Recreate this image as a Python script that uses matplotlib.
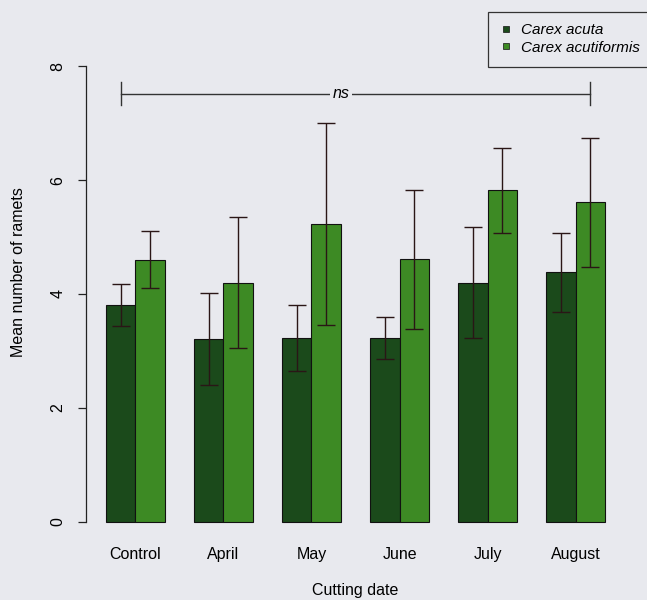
import numpy as np
import matplotlib
matplotlib.use("Agg")
import matplotlib.pyplot as plt
from matplotlib.lines import Line2D
from matplotlib.patches import Rectangle

plt.rcParams['font.family'] = ['Liberation Sans', 'DejaVu Sans']

# ---- data ----
dates = ["Control", "April", "May", "June", "July", "August"]
acuta_mean = [3.80, 3.21, 3.23, 3.23, 4.20, 4.38]
acuta_se = [0.37, 0.80, 0.58, 0.37, 0.98, 0.69]
acutiformis_mean = [4.60, 4.20, 5.23, 4.61, 5.82, 5.61]
acutiformis_se = [0.50, 1.15, 1.78, 1.22, 0.74, 1.13]
species = ["Carex acuta", "Carex acutiformis"]

bg = '#e8e9ee'
dark = '#1b4a1b'
light = '#3d8a24'
err_col = '#2a1616'
fs = 11.5

fig = plt.figure(figsize=(6.47, 6.0), dpi=100, facecolor=bg)
ax = fig.add_axes([86/647, 60/600, 539/647, 492/600], facecolor=bg)

# R-style barplot: beside, space = c(0, 1)
n = len(dates)
left_dark = 1 + 3 * np.arange(n)
x_dark = left_dark + 0.5
x_light = left_dark + 1.5

ax.bar(x_dark, acuta_mean, width=1, color=dark, edgecolor='#111111', linewidth=0.8)
ax.bar(x_light, acutiformis_mean, width=1, color=light, edgecolor='#111111', linewidth=0.8)
ax.errorbar(x_dark, acuta_mean, yerr=acuta_se, fmt='none', ecolor=err_col,
            elinewidth=1.0, capsize=6.5, capthick=1.0)
ax.errorbar(x_light, acutiformis_mean, yerr=acutiformis_se, fmt='none', ecolor=err_col,
            elinewidth=1.0, capsize=6.5, capthick=1.0)

# significance line
y_ns = 7.52
ax.plot([x_dark[0], x_light[-1]], [y_ns, y_ns], color='#333333', lw=1.0)
for xe in (x_dark[0], x_light[-1]):
    ax.plot([xe, xe], [y_ns - 0.2, y_ns + 0.2], color='#333333', lw=1.0)
ax.text(9.0, y_ns, "ns", style='italic', fontsize=fs, ha='center', va='center',
        bbox=dict(facecolor=bg, edgecolor='none', pad=2))

ax.set_xlim(0.32, 18.68)
ax.set_ylim(-0.32, 8.32)

for s in ('top', 'right', 'bottom'):
    ax.spines[s].set_visible(False)
ax.spines['left'].set_bounds(0, 8)
ax.spines['left'].set_linewidth(0.9)
ax.spines['left'].set_color('#222222')

ax.set_yticks([0, 2, 4, 6, 8])
ax.tick_params(axis='y', length=6, width=0.9, pad=9, labelsize=fs, color='#222222')
for lab in ax.get_yticklabels():
    lab.set_rotation(90)
    lab.set_va('center')

ax.set_xticks(left_dark + 1)
ax.set_xticklabels(dates, fontsize=fs)
ax.tick_params(axis='x', length=0, pad=5)

ax.set_ylabel("Mean number of ramets", fontsize=fs)
ax.yaxis.set_label_coords(-0.126, 0.545)
ax.yaxis.label.set_va('center')
ax.set_xlabel("Cutting date", fontsize=fs)
ax.xaxis.set_label_coords(0.5, -0.102)
ax.xaxis.label.set_va('center')

# legend box (runs off the right edge, as in the original)
fig.patches.append(Rectangle((488/647, 1 - 67/600), 300/647, 55/600, transform=fig.transFigure,
                             facecolor=bg, edgecolor='#333333', linewidth=0.9))
handles = [Line2D([], [], marker='s', color='none', markerfacecolor=c, markeredgecolor='#111111',
                  markersize=5, markeredgewidth=0.5) for c in (dark, light)]
fig.legend(handles, species, loc='upper left', bbox_to_anchor=(501/647, 1 - 23/600),
           prop={'style': 'italic', 'size': 11}, frameon=False,
           borderpad=0, labelspacing=0.25, handlelength=0.6, handletextpad=0.68,
           borderaxespad=0)

fig.savefig("out.png", dpi=100, facecolor=bg)
